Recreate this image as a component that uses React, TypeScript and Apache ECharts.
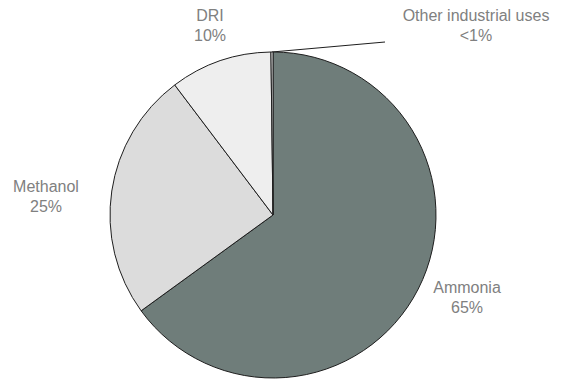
import React, { useEffect, useRef } from "react";
import * as echarts from "echarts";

const categories = ["Ammonia", "Methanol", "DRI", "Other industrial uses"];
const shares = [65.0, 24.7, 10.1, 0.2];
const shareLabels = ["65%", "25%", "10%", "<1%"];

const sliceColors = ["#6f7d7a", "#dcdcdc", "#eeeeee", "#f4f4f4"];
const labelSpots: number[][] = [
  [467, 297],
  [46, 196],
  [210, 25],
  [476, 25],
];
const leaderEnd = [385, 42];

export default function App() {
  const ref = useRef<HTMLDivElement>(null);
  useEffect(() => {
    if (!ref.current) return;
    const chart = echarts.init(ref.current, null, { renderer: "svg" });
    chart.setOption({
      animation: false,
      backgroundColor: "#ffffff",
      series: [
        {
          type: "pie",
          center: [273, 215],
          radius: 163,
          startAngle: 90,
          clockwise: true,
          avoidLabelOverlap: false,
          itemStyle: { borderColor: "#1e1e1e", borderWidth: 1 },
          label: {
            show: true,
            position: "outside",
            color: "#808080",
            fontFamily: "Liberation Sans, Arial, sans-serif",
            fontSize: 16,
            lineHeight: 20,
            align: "center",
            formatter: (p: any) => `${categories[p.dataIndex]}\n${shareLabels[p.dataIndex]}`,
          },
          labelLine: { show: false },
          labelLayout: (p: any) => {
            const s = labelSpots[p.dataIndex];
            const res: any = { x: s[0], y: s[1], align: "center", verticalAlign: "middle" };
            if (p.dataIndex === 3) {
              const start = p.labelLinePoints && p.labelLinePoints[0] ? p.labelLinePoints[0] : [273, 52];
              res.labelLinePoints = [start, leaderEnd, leaderEnd];
            }
            return res;
          },
          data: categories.map((name, i) => ({
            name,
            value: shares[i],
            itemStyle: { color: sliceColors[i] },
            labelLine:
              i === 3
                ? { show: true, length: 10, length2: 10, lineStyle: { color: "#1e1e1e", width: 1 } }
                : { show: false },
          })),
        },
      ],
    });
    return () => chart.dispose();
  }, []);
  return (
    <div
      ref={ref}
      style={{ position: "fixed", left: 0, top: 0, width: 583, height: 379 }}
    />
  );
}
